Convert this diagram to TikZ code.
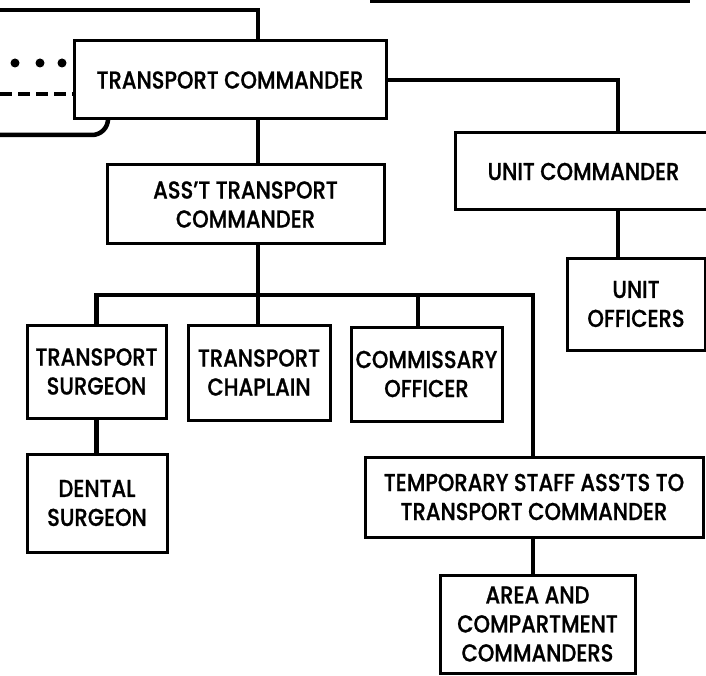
\documentclass[tikz,border=0pt]{standalone}
\usepackage{fontspec}
\setmainfont{Poppins}[UprightFont=* Medium,FakeStretch=0.86,FakeBold=0.8]
\usetikzlibrary{positioning,calc}
\tikzset{office/.style={
            draw,
            line width=3pt,
            align=center,
            inner sep=0pt,
            font=\fontsize{24.5}{29}\selectfont
        },
        link/.style={
            line width=4.5pt
        },
        dot/.style={
            circle,
            fill,
            inner sep=0pt,
            minimum size=9pt
        }
    }

\begin{document}
\begin{tikzpicture}[x=1pt,y=-1pt]
        \useasboundingbox (0,0) rectangle (706,676);

        % boxes
        \node[office,minimum width=312pt,minimum height=78pt] (tc) at (230,80) {TRANSPORT COMMANDER};
        \node[office,minimum width=277pt,minimum height=79pt] (ass) at (245.5,204.5) {ASS'T TRANSPORT\\COMMANDER};
        \node[office,minimum width=257pt,minimum height=77pt] (uc) at (583.5,171.5) {UNIT COMMANDER};
        \node[office,minimum width=138pt,minimum height=92pt] (uo) at (636,304) {UNIT\\OFFICERS};
        \node[office,minimum width=139pt,minimum height=93pt] (ts) at (96.5,371.5) {TRANSPORT\\SURGEON};
        \node[office,minimum width=142pt,minimum height=95pt] (tch) at (259,372.5) {TRANSPORT\\CHAPLAIN};
        \node[office,minimum width=151pt,minimum height=94pt] (co) at (426.5,374) {COMMISSARY\\OFFICER};
        \node[office,minimum width=140pt,minimum height=98pt] (ds) at (97,503) {DENTAL\\SURGEON};
        \node[office,minimum width=338pt,minimum height=80pt] (tsa) at (534,497) {TEMPORARY STAFF ASS'TS TO\\TRANSPORT COMMANDER};
        \node[office,minimum width=195pt,minimum height=98pt] (acc) at (537.5,624) {AREA AND\\COMPARTMENT\\COMMANDERS};

        % where the lines run
        \coordinate (spine) at (258,0);
        \coordinate (ucx) at (618,0);
        \coordinate (cox) at (418,0);
        \coordinate (tsx) at (533,0);
        \coordinate (bus) at (0,295);
        \coordinate (topin) at (0,10);
        \coordinate (dashin) at (0,94);
        \coordinate (loopin) at (0,135);
        \coordinate (loopup) at (108,0);
        \coordinate (edgeA) at (370,1.5);
        \coordinate (edgeB) at (690,1.5);

        % lines coming in from the left
        \draw[link] (topin) -| (tc.north -| spine);
        \foreach \x in {15,40,62}
            \node[dot] (dot\x) at (\x,63) {};
        \draw[line width=4pt,dash pattern=on 12pt off 6pt] (dashin) -- (dashin -| tc.west);
        \draw[link,rounded corners=16pt] (loopin) -| (tc.south -| loopup);
        \draw[line width=2.5pt] (edgeA) -- (edgeB);

        % chain of command
        \draw[link] (tc.south -| spine) -- (ass.north -| spine);
        \draw[link] (tc.east) -| (uc.north -| ucx);
        \draw[link] (uc.south -| ucx) -- (uo.north -| ucx);
        \draw[link] (ass.south -| spine) -- (tch.north -| spine);
        \draw[link] (ts.north) -- (ts.north |- bus) -- (bus -| tsx) -- (tsa.north -| tsx);
        \draw[link] (co.north -| cox) -- (bus -| cox);
        \draw[link] (ts.south) -- (ts.south |- ds.north);
        \draw[link] (tsa.south -| tsx) -- (acc.north -| tsx);

    \end{tikzpicture}
\end{document}
